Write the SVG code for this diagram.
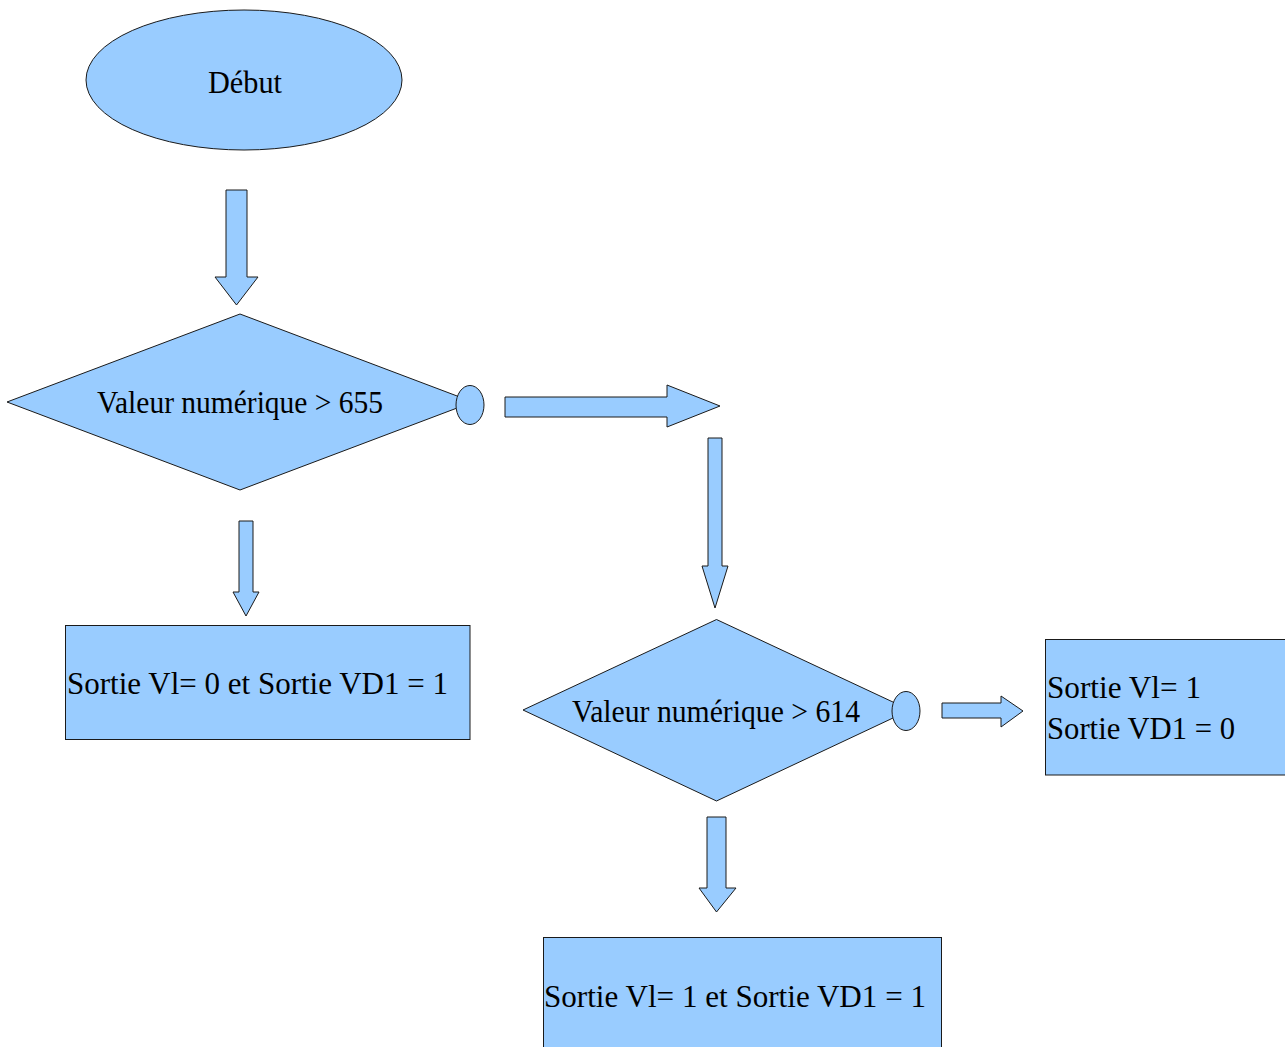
<svg xmlns="http://www.w3.org/2000/svg" width="1285" height="1047" viewBox="0 0 1285 1047">
<style>
.s{fill:#99ccff;stroke:#1a1a1a;stroke-width:1}
.t{font-family:"Liberation Serif","Times New Roman",serif;font-size:31px;fill:#000}
</style>
<rect width="1285" height="1047" fill="#ffffff"/>
<g id="connectors">
<polygon class="s" points="226,190 247,190 247,277 258,277 236.5,305 215,277 226,277"/>
<polygon class="s" points="239,521 253,521 253,592 259,592 246,616 233,592 239,592"/>
<polygon class="s" points="708,438 722,438 722,566 728,566 715,608 702,566 708,566"/>
<polygon class="s" points="707,817 726,817 726,888 736,888 716.5,912 699,888 707,888"/>
<polygon class="s" points="505,397 667,397 667,385 720,406 667,427 667,417 505,417"/>
<polygon class="s" points="942,703 1001,703 1001,696 1023,711 1001,727 1001,718 942,718"/>
</g>
<g id="debut">
<ellipse class="s" cx="244" cy="80" rx="158" ry="70"/>
<text class="t" x="208" y="93" textLength="74" lengthAdjust="spacingAndGlyphs">Début</text>
</g>
<g id="test655">
<polygon class="s" points="240,314 473,402 240,490 7,402"/>
<ellipse class="s" cx="470" cy="405" rx="14" ry="19.5"/>
<text class="t" x="97" y="413" textLength="286" lengthAdjust="spacingAndGlyphs">Valeur numérique &gt; 655</text>
</g>
<g id="out1">
<rect class="s" x="65.5" y="625.5" width="404.5" height="114"/>
<text class="t" x="67" y="694" textLength="381" lengthAdjust="spacingAndGlyphs">Sortie Vl= 0 et Sortie VD1 = 1</text>
</g>
<g id="test614">
<polygon class="s" points="716.5,619.5 910,710 716.5,801 523,710"/>
<ellipse class="s" cx="906" cy="711" rx="14" ry="19.5"/>
<text class="t" x="572" y="722" textLength="288" lengthAdjust="spacingAndGlyphs">Valeur numérique &gt; 614</text>
</g>
<g id="out2">
<rect class="s" x="1045.5" y="639.5" width="245" height="135.5"/>
<text class="t" x="1047" y="698" textLength="154" lengthAdjust="spacingAndGlyphs">Sortie Vl= 1</text>
<text class="t" x="1047" y="739" textLength="188" lengthAdjust="spacingAndGlyphs">Sortie VD1 = 0</text>
</g>
<g id="out3">
<rect class="s" x="543.5" y="937.5" width="398" height="120"/>
<text class="t" x="544" y="1007" textLength="382" lengthAdjust="spacingAndGlyphs">Sortie Vl= 1 et Sortie VD1 = 1</text>
</g>
</svg>
